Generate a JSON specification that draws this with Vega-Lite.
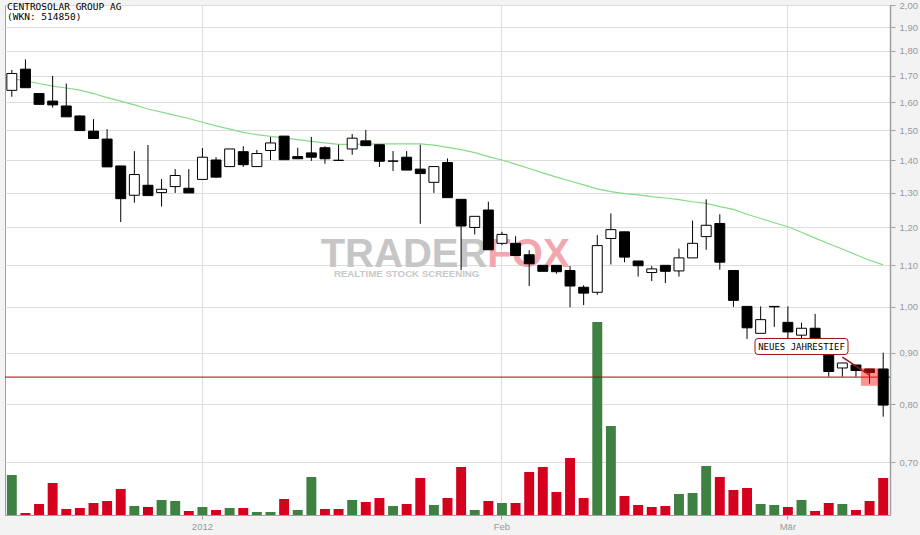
{
  "$schema": "https://vega.github.io/schema/vega-lite/v6.json",
  "width": 885,
  "height": 510,
  "autosize": {"type": "none"},
  "padding": {"left": 5, "top": 5, "right": 30, "bottom": 20},
  "background": "#f3f3f3",
  "config": {
    "view": {"fill": "white", "stroke": "#a0a0a0", "strokeWidth": 1},
    "axis": {"labelFont": "Liberation Sans", "labelFontSize": 9.5, "labelColor": "#999999", "domainColor": "#a0a0a0", "tickColor": "#a0a0a0", "gridColor": "#dddddd", "gridWidth": 1}
  },
  "title": {
    "text": ["CENTROSOLAR GROUP AG", "(WKN: 514850)"],
    "anchor": "start",
    "frame": "group",
    "orient": "top",
    "offset": -21.5,
    "dx": 2,
    "font": "DejaVu Sans Mono",
    "fontSize": 9.5,
    "fontWeight": "normal",
    "color": "#000000",
    "lineHeight": 10.5,
    "baseline": "top"
  },
  "datasets": {
    "ohlc": [
      {"d":"2011-12-12","o":1.644,"h":1.723,"l":1.620,"c":1.709,"v":40000,"dir":"up","ma":1.690},
      {"d":"2011-12-13","o":1.726,"h":1.765,"l":1.654,"c":1.654,"v":2000,"dir":"down","ma":1.680},
      {"d":"2011-12-14","o":1.632,"h":1.632,"l":1.592,"c":1.592,"v":11000,"dir":"down","ma":1.670},
      {"d":"2011-12-15","o":1.604,"h":1.699,"l":1.580,"c":1.590,"v":32000,"dir":"down","ma":1.660},
      {"d":"2011-12-16","o":1.586,"h":1.670,"l":1.547,"c":1.547,"v":6000,"dir":"down","ma":1.653},
      {"d":"2011-12-19","o":1.550,"h":1.553,"l":1.499,"c":1.499,"v":7000,"dir":"down","ma":1.645},
      {"d":"2011-12-20","o":1.497,"h":1.539,"l":1.472,"c":1.472,"v":12000,"dir":"down","ma":1.632},
      {"d":"2011-12-21","o":1.470,"h":1.504,"l":1.379,"c":1.379,"v":14000,"dir":"down","ma":1.617},
      {"d":"2011-12-22","o":1.382,"h":1.382,"l":1.215,"c":1.282,"v":26000,"dir":"down","ma":1.604},
      {"d":"2011-12-23","o":1.292,"h":1.430,"l":1.270,"c":1.355,"v":9000,"dir":"up","ma":1.590},
      {"d":"2011-12-27","o":1.322,"h":1.450,"l":1.291,"c":1.291,"v":8000,"dir":"down","ma":1.575},
      {"d":"2011-12-28","o":1.300,"h":1.341,"l":1.259,"c":1.310,"v":15000,"dir":"up","ma":1.564},
      {"d":"2011-12-29","o":1.318,"h":1.372,"l":1.299,"c":1.352,"v":14000,"dir":"up","ma":1.552},
      {"d":"2011-12-30","o":1.313,"h":1.372,"l":1.299,"c":1.299,"v":4000,"dir":"down","ma":1.541},
      {"d":"2012-01-02","o":1.340,"h":1.440,"l":1.340,"c":1.410,"v":8000,"dir":"up","ma":1.528},
      {"d":"2012-01-03","o":1.401,"h":1.410,"l":1.345,"c":1.347,"v":5000,"dir":"down","ma":1.515},
      {"d":"2012-01-04","o":1.380,"h":1.437,"l":1.380,"c":1.437,"v":7000,"dir":"up","ma":1.504},
      {"d":"2012-01-05","o":1.428,"h":1.446,"l":1.379,"c":1.386,"v":7000,"dir":"down","ma":1.493},
      {"d":"2012-01-06","o":1.380,"h":1.434,"l":1.380,"c":1.422,"v":3000,"dir":"up","ma":1.485},
      {"d":"2012-01-09","o":1.432,"h":1.477,"l":1.401,"c":1.457,"v":3000,"dir":"up","ma":1.479},
      {"d":"2012-01-10","o":1.480,"h":1.480,"l":1.402,"c":1.402,"v":16000,"dir":"down","ma":1.474},
      {"d":"2012-01-11","o":1.412,"h":1.441,"l":1.405,"c":1.405,"v":5000,"dir":"up","ma":1.468},
      {"d":"2012-01-12","o":1.424,"h":1.477,"l":1.398,"c":1.410,"v":38000,"dir":"up","ma":1.462},
      {"d":"2012-01-13","o":1.441,"h":1.446,"l":1.389,"c":1.405,"v":6000,"dir":"down","ma":1.457},
      {"d":"2012-01-16","o":1.400,"h":1.451,"l":1.400,"c":1.400,"v":6000,"dir":"down","ma":1.452},
      {"d":"2012-01-17","o":1.437,"h":1.487,"l":1.418,"c":1.473,"v":15000,"dir":"up","ma":1.452},
      {"d":"2012-01-18","o":1.464,"h":1.501,"l":1.448,"c":1.448,"v":13000,"dir":"down","ma":1.453},
      {"d":"2012-01-19","o":1.451,"h":1.451,"l":1.379,"c":1.397,"v":17000,"dir":"down","ma":1.454},
      {"d":"2012-01-20","o":1.397,"h":1.430,"l":1.366,"c":1.398,"v":9000,"dir":"up","ma":1.454},
      {"d":"2012-01-23","o":1.410,"h":1.430,"l":1.369,"c":1.369,"v":11000,"dir":"down","ma":1.454},
      {"d":"2012-01-24","o":1.372,"h":1.451,"l":1.210,"c":1.358,"v":37000,"dir":"down","ma":1.454},
      {"d":"2012-01-25","o":1.331,"h":1.380,"l":1.299,"c":1.380,"v":10000,"dir":"up","ma":1.450},
      {"d":"2012-01-26","o":1.393,"h":1.406,"l":1.285,"c":1.285,"v":17000,"dir":"down","ma":1.442},
      {"d":"2012-01-27","o":1.280,"h":1.280,"l":1.088,"c":1.204,"v":48000,"dir":"down","ma":1.435},
      {"d":"2012-01-30","o":1.200,"h":1.231,"l":1.181,"c":1.231,"v":5000,"dir":"up","ma":1.425},
      {"d":"2012-01-31","o":1.249,"h":1.273,"l":1.140,"c":1.140,"v":14000,"dir":"down","ma":1.412},
      {"d":"2012-02-01","o":1.157,"h":1.188,"l":1.152,"c":1.181,"v":12000,"dir":"up","ma":1.401},
      {"d":"2012-02-02","o":1.157,"h":1.176,"l":1.125,"c":1.125,"v":12000,"dir":"down","ma":1.388},
      {"d":"2012-02-03","o":1.127,"h":1.139,"l":1.049,"c":1.104,"v":43000,"dir":"down","ma":1.374},
      {"d":"2012-02-06","o":1.100,"h":1.100,"l":1.085,"c":1.085,"v":48000,"dir":"down","ma":1.360},
      {"d":"2012-02-07","o":1.100,"h":1.100,"l":1.079,"c":1.084,"v":23000,"dir":"down","ma":1.347},
      {"d":"2012-02-08","o":1.087,"h":1.098,"l":0.999,"c":1.049,"v":57000,"dir":"down","ma":1.335},
      {"d":"2012-02-09","o":1.046,"h":1.051,"l":1.004,"c":1.032,"v":17000,"dir":"down","ma":1.323},
      {"d":"2012-02-10","o":1.034,"h":1.179,"l":1.028,"c":1.151,"v":193000,"dir":"up","ma":1.311},
      {"d":"2012-02-13","o":1.170,"h":1.239,"l":1.102,"c":1.194,"v":89000,"dir":"up","ma":1.303},
      {"d":"2012-02-14","o":1.188,"h":1.188,"l":1.108,"c":1.121,"v":19000,"dir":"down","ma":1.297},
      {"d":"2012-02-15","o":1.111,"h":1.111,"l":1.072,"c":1.099,"v":10000,"dir":"down","ma":1.293},
      {"d":"2012-02-16","o":1.082,"h":1.098,"l":1.061,"c":1.091,"v":8000,"dir":"down","ma":1.288},
      {"d":"2012-02-17","o":1.100,"h":1.100,"l":1.056,"c":1.085,"v":9000,"dir":"down","ma":1.284},
      {"d":"2012-02-20","o":1.086,"h":1.143,"l":1.072,"c":1.119,"v":21000,"dir":"up","ma":1.279},
      {"d":"2012-02-21","o":1.119,"h":1.219,"l":1.119,"c":1.157,"v":22000,"dir":"up","ma":1.273},
      {"d":"2012-02-22","o":1.175,"h":1.280,"l":1.140,"c":1.206,"v":49000,"dir":"up","ma":1.268},
      {"d":"2012-02-23","o":1.211,"h":1.237,"l":1.089,"c":1.108,"v":38000,"dir":"down","ma":1.259},
      {"d":"2012-02-24","o":1.087,"h":1.087,"l":1.000,"c":1.015,"v":25000,"dir":"down","ma":1.251},
      {"d":"2012-02-27","o":1.001,"h":1.001,"l":0.929,"c":0.953,"v":27000,"dir":"down","ma":1.237},
      {"d":"2012-02-28","o":0.941,"h":1.001,"l":0.941,"c":0.971,"v":11000,"dir":"up","ma":1.225},
      {"d":"2012-02-29","o":1.001,"h":1.001,"l":0.955,"c":1.000,"v":10000,"dir":"up","ma":1.213},
      {"d":"2012-03-01","o":0.965,"h":1.001,"l":0.925,"c":0.944,"v":8000,"dir":"down","ma":1.202},
      {"d":"2012-03-02","o":0.937,"h":0.964,"l":0.925,"c":0.952,"v":15000,"dir":"up","ma":1.187},
      {"d":"2012-03-05","o":0.952,"h":0.984,"l":0.928,"c":0.928,"v":4000,"dir":"down","ma":1.171},
      {"d":"2012-03-06","o":0.926,"h":0.926,"l":0.852,"c":0.862,"v":12000,"dir":"down","ma":1.156},
      {"d":"2012-03-07","o":0.869,"h":0.879,"l":0.852,"c":0.879,"v":11000,"dir":"up","ma":1.142},
      {"d":"2012-03-08","o":0.875,"h":0.875,"l":0.852,"c":0.864,"v":5000,"dir":"down","ma":1.127},
      {"d":"2012-03-09","o":0.867,"h":0.867,"l":0.838,"c":0.860,"v":14000,"dir":"down","ma":1.113},
      {"d":"2012-03-12","o":0.867,"h":0.900,"l":0.777,"c":0.798,"v":37000,"dir":"down","ma":1.101}
    ],
    "level": [{"p":0.851}],
    "note": [{"d":"2012-03-02","p":0.913,"t":"NEUES JAHRESTIEF"}],
    "connector": [{"d1":"2012-03-07","d2":"2012-03-09","p1":0.891,"p2":0.855}],
    "mark": [{"d":"2012-03-09","p":0.851}]
  },
  "layer": [
    {
      "data": {"name": "ohlc"},
      "mark": {"type": "bar"},
      "encoding": {
        "x": {"field": "d", "type": "ordinal", "scale": {"paddingInner": 0.27, "paddingOuter": 0.135},
          "axis": {"values": ["2012-01-02", "2012-02-01", "2012-03-01"],
            "labelExpr": "datum.value == '2012-01-02' ? '2012' : (datum.value == '2012-02-01' ? 'Feb' : 'Mär')",
            "labelAngle": 0, "title": null, "grid": true, "bandPosition": 0.5, "tickSize": 4, "labelPadding": 2, "domainWidth": 1}},
        "y": {"field": "v", "type": "quantitative", "scale": {"domain": [0, 510000], "nice": false}, "axis": null},
        "color": {"field": "dir", "type": "nominal", "scale": {"domain": ["up", "down"], "range": ["#3f8142", "#d4001e"]}, "legend": null}
      }
    },
    {
      "layer": [
        {
          "data": {"values": [{"d": "2012-01-31", "p": 1.097, "t": "TRADER"}]},
          "mark": {"type": "text", "font": "Liberation Sans", "fontWeight": "bold", "fontSize": 40, "align": "right", "baseline": "alphabetic", "color": "#c6c6c6", "dx": -1},
          "encoding": {
            "x": {"field": "d", "type": "ordinal"},
            "y": {"field": "p", "type": "quantitative",
              "scale": {"type": "log", "domain": [0.62, 2.0], "nice": false, "zero": false},
              "axis": {"orient": "right", "title": null, "values": [0.7, 0.8, 0.9, 1.0, 1.1, 1.2, 1.3, 1.4, 1.5, 1.6, 1.7, 1.8, 1.9, 2.0],
                "labelExpr": "replace(format(datum.value, '.2f'), '.', ',')", "grid": true, "tickSize": 5, "labelPadding": 4, "domainWidth": 1.5}},
            "text": {"field": "t"}
          }
        },
        {
          "data": {"values": [{"d": "2012-01-31", "p": 1.097, "t": "FOX"}]},
          "mark": {"type": "text", "font": "Liberation Sans", "fontWeight": "bold", "fontSize": 40, "align": "left", "baseline": "alphabetic", "color": "#f2a7ae", "dx": -1},
          "encoding": {
            "x": {"field": "d", "type": "ordinal"},
            "y": {"field": "p", "type": "quantitative"},
            "text": {"field": "t"}
          }
        },
        {
          "data": {"values": [{"d": "2012-01-23", "p": 1.071, "t": "REALTIME STOCK SCREENING"}]},
          "mark": {"type": "text", "font": "Liberation Sans", "fontWeight": "bold", "fontSize": 9.7, "align": "center", "baseline": "alphabetic", "color": "#c8c8c8"},
          "encoding": {
            "x": {"field": "d", "type": "ordinal"},
            "y": {"field": "p", "type": "quantitative"},
            "text": {"field": "t"}
          }
        },
        {
          "data": {"name": "level"},
          "mark": {"type": "rule", "color": "#b00000", "strokeWidth": 1},
          "encoding": {"y": {"field": "p", "type": "quantitative"}}
        },
        {
          "data": {"name": "ohlc"},
          "mark": {"type": "line", "color": "#86dc86", "strokeWidth": 1.2},
          "encoding": {
            "x": {"field": "d", "type": "ordinal"},
            "y": {"field": "ma", "type": "quantitative"}
          }
        },
        {
          "data": {"name": "ohlc"},
          "mark": {"type": "rule", "color": "#000000", "strokeWidth": 1},
          "encoding": {
            "x": {"field": "d", "type": "ordinal"},
            "y": {"field": "l", "type": "quantitative"},
            "y2": {"field": "h"}
          }
        },
        {
          "data": {"name": "ohlc"},
          "mark": {"type": "bar", "stroke": "#000000", "strokeWidth": 1},
          "encoding": {
            "x": {"field": "d", "type": "ordinal"},
            "y": {"field": "o", "type": "quantitative"},
            "y2": {"field": "c"},
            "fill": {"condition": {"test": "datum.c > datum.o", "value": "#ffffff"}, "value": "#000000"}
          }
        },
        {
          "data": {"name": "connector"},
          "mark": {"type": "rule", "color": "#a01010", "strokeWidth": 1.5},
          "encoding": {
            "x": {"field": "d1", "type": "ordinal"},
            "x2": {"field": "d2"},
            "y": {"field": "p1", "type": "quantitative"},
            "y2": {"field": "p2"}
          }
        },
        {
          "data": {"name": "note"},
          "mark": {"type": "point", "filled": true, "fill": "#ffffff", "stroke": "#a01010", "strokeWidth": 1, "opacity": 1,
            "shape": "M-0.935,-0.172 L0.935,-0.172 Q1,-0.172 1,-0.107 L1,0.107 Q1,0.172 0.935,0.172 L-0.935,0.172 Q-1,0.172 -1,0.107 L-1,-0.107 Q-1,-0.172 -0.935,-0.172 Z",
            "size": 8649},
          "encoding": {
            "x": {"field": "d", "type": "ordinal"},
            "y": {"field": "p", "type": "quantitative"}
          }
        },
        {
          "data": {"name": "note"},
          "mark": {"type": "text", "font": "DejaVu Sans Mono", "fontSize": 9, "color": "#000000", "align": "center", "baseline": "middle", "dy": 0.5},
          "encoding": {
            "x": {"field": "d", "type": "ordinal"},
            "y": {"field": "p", "type": "quantitative"},
            "text": {"field": "t"}
          }
        },
        {
          "data": {"name": "mark"},
          "mark": {"type": "point", "shape": "square", "filled": true, "color": "#ff1a1a", "opacity": 0.47, "size": 306},
          "encoding": {
            "x": {"field": "d", "type": "ordinal"},
            "y": {"field": "p", "type": "quantitative"}
          }
        }
      ]
    }
  ],
  "resolve": {"scale": {"y": "independent"}}
}
